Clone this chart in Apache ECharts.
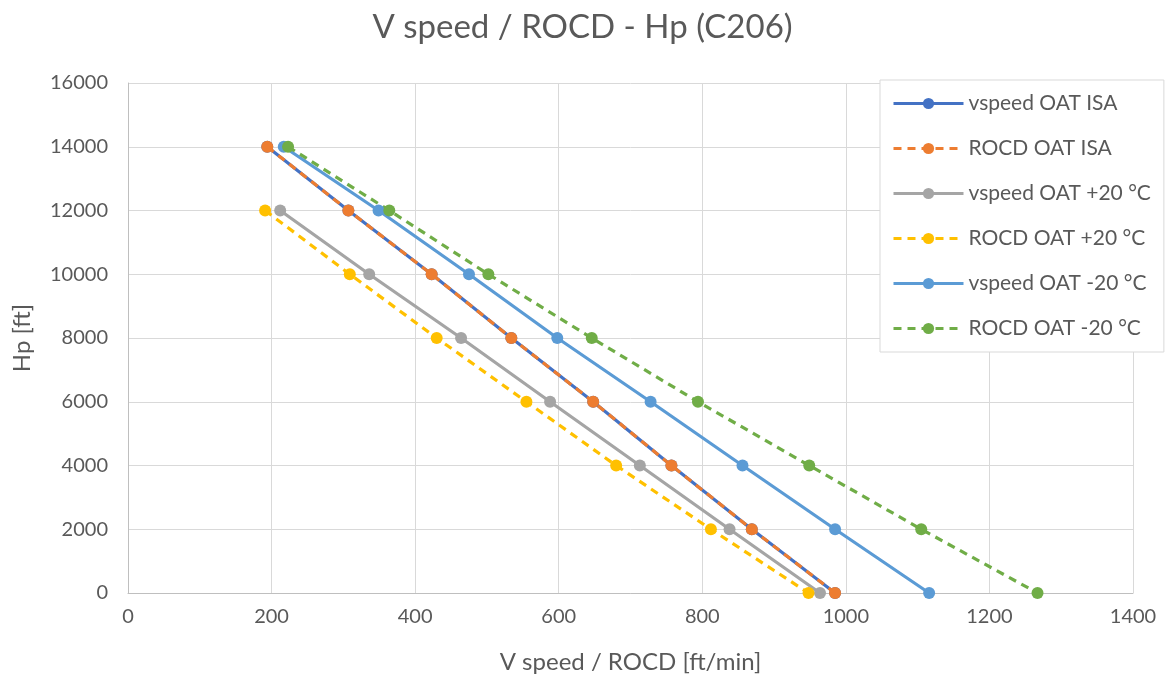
<!DOCTYPE html>
<html><head><meta charset="utf-8">
<script src="https://cdn.jsdelivr.net/npm/echarts@6/dist/echarts.min.js"></script>
<style>html,body{margin:0;padding:0;background:#fff}#c{width:1165px;height:680px}</style>
</head><body><div id="c"></div>
<script>
const altitudes14 = [14000, 12000, 10000, 8000, 6000, 4000, 2000, 0];
const altitudes12 = [12000, 10000, 8000, 6000, 4000, 2000, 0];
const vspeedISA   = [194, 307, 423, 534, 648, 757, 869, 985];
const rocdISA     = [194, 307, 423, 534, 648, 757, 869, 985];
const vspeedP20   = [212, 336, 464, 588, 713, 838, 964];
const rocdP20     = [191, 309, 430, 555, 680, 812, 948];
const vspeedM20   = [217, 349, 475, 598, 728, 856, 985, 1116];
const rocdM20     = [223, 364, 502, 646, 794, 949, 1105, 1267];
const seriesNames = ['vspeed OAT ISA','ROCD OAT ISA','vspeed OAT +20 °C','ROCD OAT +20 °C','vspeed OAT -20 °C','ROCD OAT -20 °C'];
const colors = ['#4472C4','#ED7D31','#A5A5A5','#FFC000','#5B9BD5','#70AD47'];
const xTicks = [0,200,400,600,800,1000,1200,1400];

function pts(xs, ys){ return xs.map((x,i)=>[x, ys[i]]); }
const datas = [
  pts(vspeedISA, altitudes14), pts(rocdISA, altitudes14),
  pts(vspeedP20, altitudes12), pts(rocdP20, altitudes12),
  pts(vspeedM20, altitudes14), pts(rocdM20, altitudes14)
];
const font = 'Lato, "Open Sans", sans-serif';
const chart = echarts.init(document.getElementById('c'));
chart.setOption({
  animation: false,
  color: colors,
  title: { text: 'V speed / ROCD - Hp (C206)', left: 'center', top: 6,
    textStyle: { fontFamily: font, fontSize: 33, fontWeight: 'normal', color: '#595959' } },
  grid: { left: 128, right: 32, top: 83, bottom: 87 },
  legend: {
    orient: 'vertical', left: 880, top: 80,
    backgroundColor: '#fff', borderColor: '#d9d9d9', borderWidth: 1,
    padding: [13, 13, 13, 12], itemGap: 24, itemWidth: 70, itemHeight: 14,
    lineStyle: { width: 3 },
    textStyle: { fontFamily: font, fontSize: 21, color: '#595959' },
    data: seriesNames
  },
  xAxis: {
    type: 'value', min: 0, max: 1400, interval: 200,
    name: 'V speed / ROCD [ft/min]', nameLocation: 'middle', nameGap: 57,
    nameTextStyle: { fontFamily: font, fontSize: 24, color: '#595959' },
    axisLine: { show: true, lineStyle: { color: '#bfbfbf' } }, axisTick: { show: false },
    axisLabel: { fontFamily: font, fontSize: 20, color: '#595959', margin: 14,
      formatter: v => xTicks.includes(v) ? String(v) : '' },
    splitLine: { lineStyle: { color: '#d9d9d9', width: 1 } }
  },
  yAxis: {
    type: 'value', min: 0, max: 16000, interval: 2000,
    name: 'Hp [ft]', nameLocation: 'middle', nameGap: 94, nameRotate: 90,
    nameTextStyle: { fontFamily: font, fontSize: 24, color: '#595959' },
    axisLine: { show: true, lineStyle: { color: '#bfbfbf' } }, axisTick: { show: false },
    axisLabel: { fontFamily: font, fontSize: 20, color: '#595959', margin: 20,
      formatter: v => String(v) },
    splitLine: { lineStyle: { color: '#d9d9d9', width: 1 } }
  },
  series: datas.map((d, i) => ({
    name: seriesNames[i], type: 'line', data: d,
    symbol: 'circle', symbolSize: 12, showSymbol: true,
    lineStyle: { width: 3.2, type: (i % 2 === 1) ? [8, 6] : 'solid', color: colors[i] },
    itemStyle: { color: colors[i] },
    z: i === 1 ? 3 : 2
  }))
});
</script></body></html>
